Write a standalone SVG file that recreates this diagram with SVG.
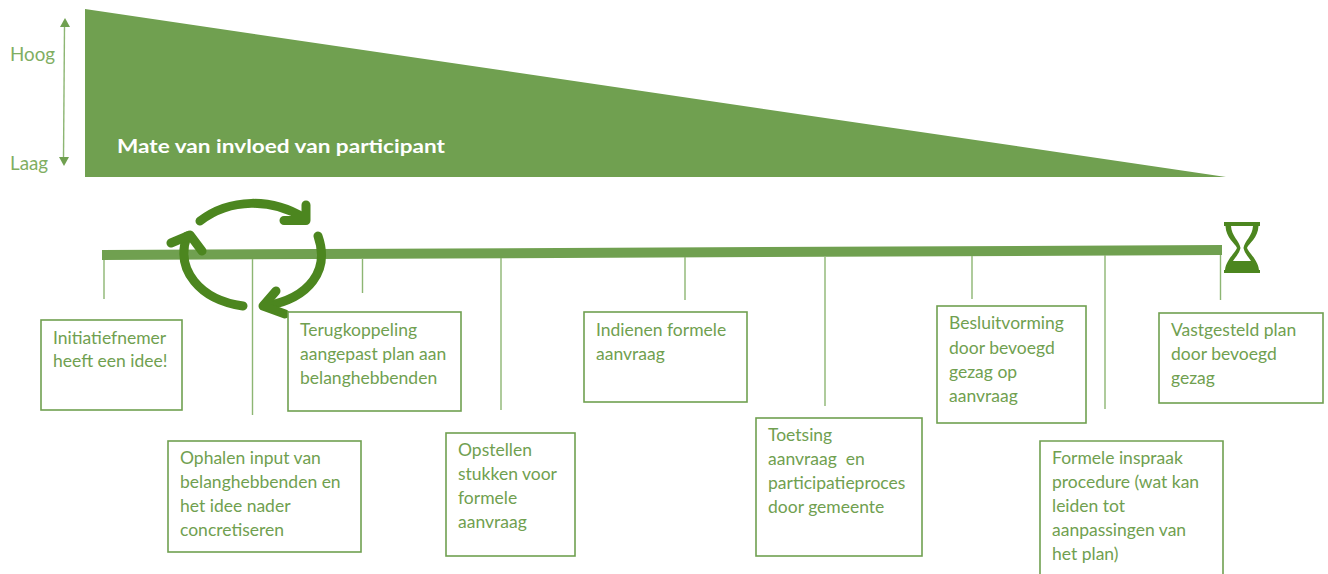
<svg xmlns="http://www.w3.org/2000/svg" width="1328" height="574" viewBox="0 0 1328 574">
<defs>
<style>
.t{font-family:Lato,"Open Sans","Liberation Sans",sans-serif;font-size:17.5px;fill:#70a050}
.s{font-size:18.8px;fill:#7fae62}
.b{fill:#fff;stroke:#70a050;stroke-width:1.6}
.v{stroke:#8db673;stroke-width:1.4;fill:none}
.c{fill:none;stroke:#4c861f;stroke-width:9;stroke-linecap:round;stroke-linejoin:round}
</style>
</defs>
<rect width="1328" height="574" fill="#fff"/>
<g id="influence">
<polygon points="85,9 1226,177 85,177" fill="#70a050"/>
<text x="117" y="153" font-family="Lato,'Open Sans','Liberation Sans',sans-serif" font-size="18.5" font-weight="700" fill="#fff" textLength="328" lengthAdjust="spacingAndGlyphs">Mate van invloed van participant</text>
</g>
<g id="scale">
<text class="t s" x="10" y="61">Hoog</text>
<text class="t s" x="10" y="170">Laag</text>
<line class="v" x1="64.500" y1="26" x2="63.500" y2="158"/>
<polygon points="65,18 60,27 70,27" fill="#70a050"/>
<polygon points="64,166 59,157 69,157" fill="#70a050"/>
</g>
<g id="connectors">
<polygon points="102,250 1222,245 1222,255 102,260" fill="#70a050"/>
<path class="v" d="M104 260V299M252.500 259V415M362.500 258V293M501 258V410M685 257V300M825 257V406M972 256V299M1105 255V409M1220.500 255V300"/>
</g>
<g id="cycle">
<path class="c" d="M200 221C230 198 272 198 304 218"/>
<path class="c" d="M284 220.500H306V205"/>
<path class="c" d="M318 236C330 270 310 298 266 306"/>
<path class="c" d="M276 291L263 306L285 314"/>
<path class="c" d="M243 306C200 300 175 270 187 236"/>
<path class="c" d="M171 243L190 235L202 251"/>
</g>
<g id="hourglass">
<path d="M1224 222H1260V226H1258.500C1258 238 1249 243 1247 248C1249 253 1258 260 1259 270H1260V273H1224V270H1225C1226 260 1235 253 1237 248C1235 243 1226 238 1225.500 226H1224Z" fill="#4c861f"/>
<path d="M1231 226H1253C1252.500 236 1244.500 241 1243.500 248C1244.500 253 1249 258 1251 261H1233C1235 258 1239.500 253 1240.500 248C1239.500 241 1231.500 236 1231 226Z" fill="#fff"/>
</g>
<g id="n1"><rect class="b" x="41" y="320" width="141" height="90"/>
<text class="t" x="53" y="344">Initiatiefnemer</text><text class="t" x="53" y="367">heeft een idee!</text></g>
<g id="n2"><rect class="b" x="168" y="441" width="193" height="111"/>
<text class="t" x="180" y="464">Ophalen input van</text><text class="t" x="180" y="488">belanghebbenden en</text><text class="t" x="180" y="512">het idee nader</text><text class="t" x="180" y="536">concretiseren</text></g>
<g id="n3"><rect class="b" x="288" y="312" width="173" height="99"/>
<text class="t" x="300" y="336">Terugkoppeling</text><text class="t" x="300" y="360">aangepast plan aan</text><text class="t" x="300" y="384">belanghebbenden</text></g>
<g id="n4"><rect class="b" x="446" y="433" width="129" height="123"/>
<text class="t" x="458" y="456">Opstellen</text><text class="t" x="458" y="480">stukken voor</text><text class="t" x="458" y="504">formele</text><text class="t" x="458" y="528">aanvraag</text></g>
<g id="n5"><rect class="b" x="584" y="312" width="163" height="90"/>
<text class="t" x="596" y="336">Indienen formele</text><text class="t" x="596" y="360">aanvraag</text></g>
<g id="n6"><rect class="b" x="756" y="418" width="166" height="138"/>
<text class="t" x="768" y="441">Toetsing</text><text class="t" x="768" y="465">aanvraag&#160; en</text><text class="t" x="768" y="489">participatieproces</text><text class="t" x="768" y="513">door gemeente</text></g>
<g id="n7"><rect class="b" x="937" y="306" width="149" height="117"/>
<text class="t" x="949" y="329">Besluitvorming</text><text class="t" x="949" y="354">door bevoegd</text><text class="t" x="949" y="378">gezag op</text><text class="t" x="949" y="402">aanvraag</text></g>
<g id="n8"><path class="b" d="M1040 574V441H1223V574"/>
<text class="t" x="1052" y="464">Formele inspraak</text><text class="t" x="1052" y="488">procedure (wat kan</text><text class="t" x="1052" y="512">leiden tot</text><text class="t" x="1052" y="536">aanpassingen van</text><text class="t" x="1052" y="560">het plan)</text></g>
<g id="n9"><rect class="b" x="1159" y="313" width="164" height="90"/>
<text class="t" x="1171" y="336">Vastgesteld plan</text><text class="t" x="1171" y="360">door bevoegd</text><text class="t" x="1171" y="384">gezag</text></g>
</svg>
